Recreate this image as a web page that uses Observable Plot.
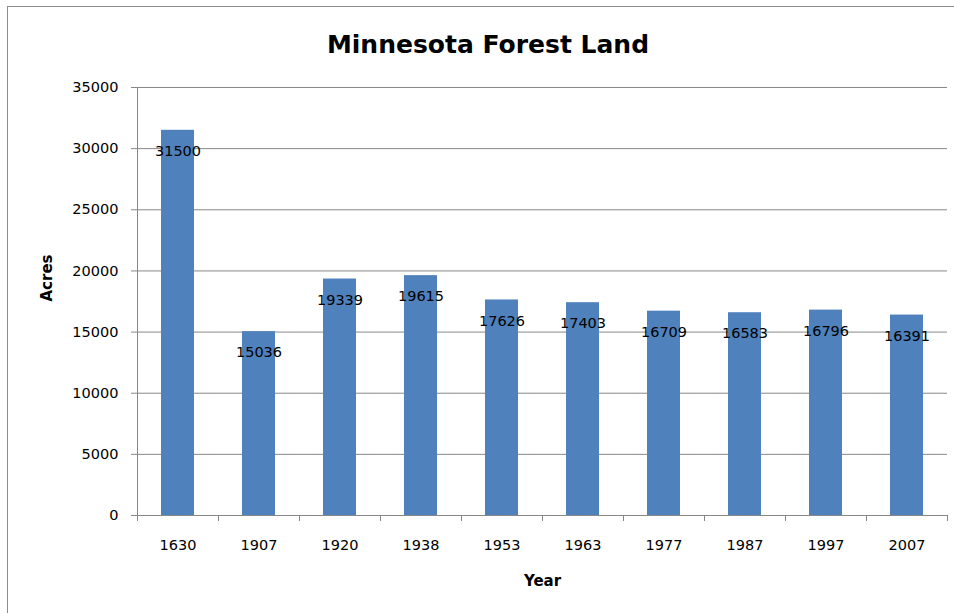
<!DOCTYPE html>
<html><head><meta charset="utf-8">
<script src="https://cdn.jsdelivr.net/npm/d3@7"></script>
<script src="https://cdn.jsdelivr.net/npm/@observablehq/plot@0.6"></script>
<style>
body{margin:0;background:#fff;}
#wrap{position:relative;width:954px;height:613px;overflow:hidden;background:#fff;}
#frame{position:absolute;left:7px;top:6px;width:1000px;height:700px;border:1px solid #8c8c8c;box-sizing:border-box;}
#title{position:absolute;left:0;top:0;width:976px;height:60px;text-align:center;font:bold 25px "DejaVu Sans",sans-serif;line-height:30px;padding-top:30px;box-sizing:border-box;color:#000;}
#chart{position:absolute;left:0;top:60px;}
</style></head>
<body>
<div id="wrap"><div id="frame"></div><div id="title">Minnesota Forest Land</div><div id="chart"></div></div>
<script>
const years = ["1630","1907","1920","1938","1953","1963","1977","1987","1997","2007"];
const acres = [31500,15036,19339,19615,17626,17403,16709,16583,16796,16391];
const yTicks = [0,5000,10000,15000,20000,25000,30000,35000];

const data = years.map((y,i)=>({year:y, acres:acres[i]}));
const W=954, H=553, ML=137, MR=7, MT=27, MB=98;
const step=(W-ML-MR)/years.length;
const barW=33;
const inset=(step-barW)/2;
const font='"DejaVu Sans", sans-serif';

const chart = Plot.plot({
  width:W, height:H, marginLeft:ML, marginRight:MR, marginTop:MT, marginBottom:MB,
  style:{fontFamily:font, background:"transparent"},
  x:{domain:years, padding:0, label:null},
  y:{domain:[0,35000], label:null},
  marks:[
    Plot.gridY(yTicks,{stroke:"#878787", strokeOpacity:1, strokeWidth:1}),
    Plot.barY(data,{x:"year", y:"acres", fill:"#4f81bd", insetLeft:inset, insetRight:inset}),
    Plot.axisY(yTicks,{tickSize:6, tickPadding:13, stroke:"#878787", fill:"#000", fontSize:14.5, label:null, tickFormat:d=>String(d)}),
    Plot.frame({anchor:"left", stroke:"#878787"}),
    Plot.axisX({tickSize:0, tickPadding:24, fontSize:14.5, fill:"#000", label:null}),
    Plot.axisX(years,{tickSize:6, text:null, stroke:"#878787", dx:-step/2, label:null}),
    Plot.axisX([years[years.length-1]],{tickSize:6, text:null, stroke:"#878787", dx:step/2, label:null}),
    Plot.text(data,{x:"year", y:"acres", text:d=>String(d.acres), dy:21, fontSize:14.5, fill:"#000"}),
    Plot.text(["Acres"],{frameAnchor:"left", dx:-90, rotate:-90, fontSize:15, fontWeight:"bold", fill:"#000"}),
    Plot.text(["Year"],{frameAnchor:"bottom", dy:70, fontSize:15, fontWeight:"bold", fill:"#000"})
  ]
});
document.getElementById("chart").appendChild(chart);
</script>
</body></html>
